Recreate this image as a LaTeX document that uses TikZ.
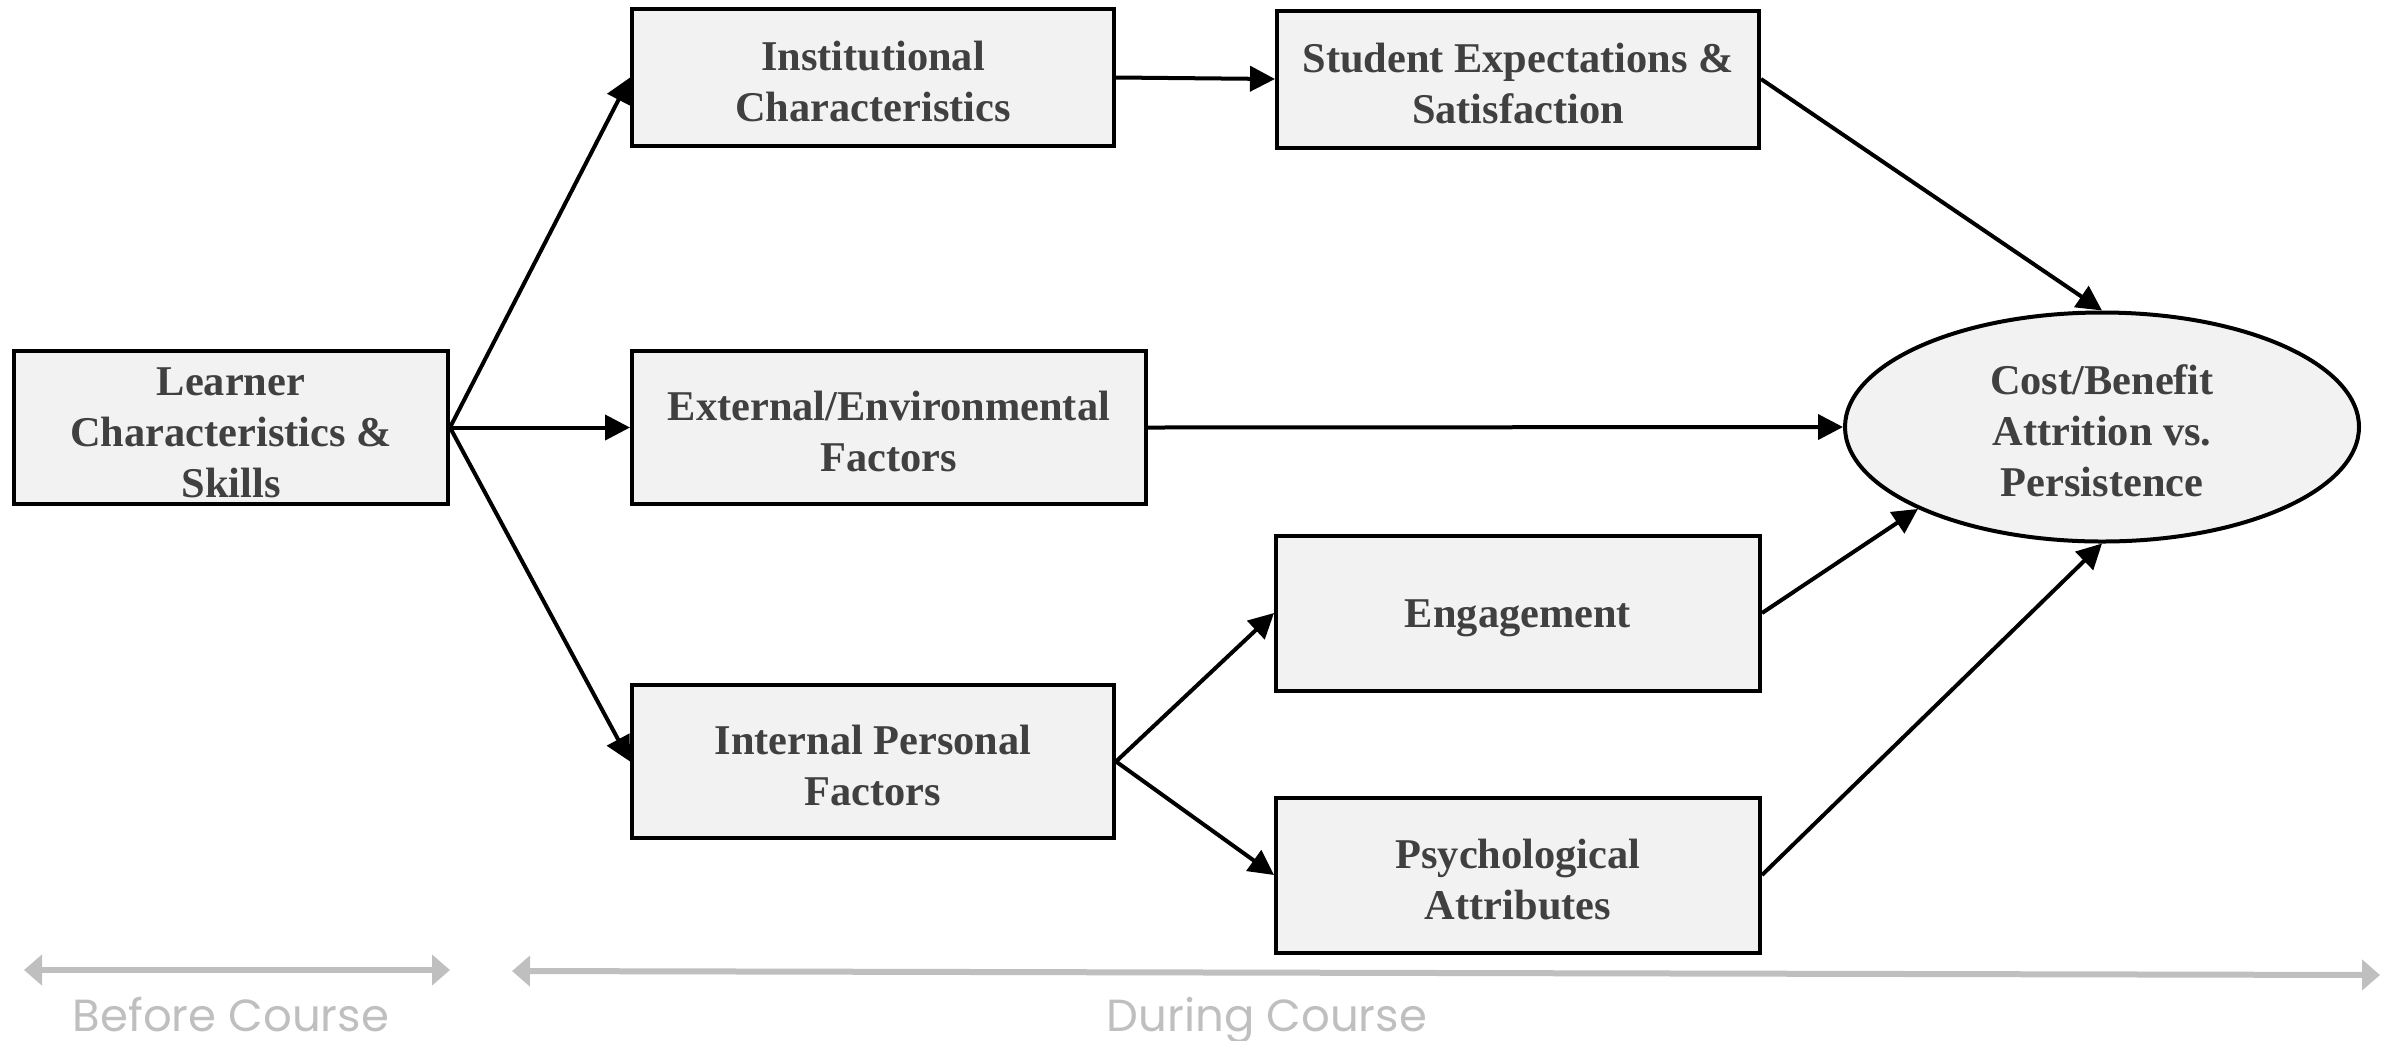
\documentclass[tikz,border=0pt]{standalone}
\usepackage{fontspec}
\setmainfont{Liberation Serif}
\newfontfamily\lanefamily{Poppins}
\usetikzlibrary{arrows.meta,shapes.geometric}

\definecolor{boxfill}{HTML}{F2F2F2}
\definecolor{boxtext}{HTML}{404040}
\definecolor{lanegray}{HTML}{BFBFBF}

\newcommand\boxfont{\bfseries\fontsize{21.2}{25.5}\selectfont}
\newcommand\lanefont{\lanefamily\fontsize{22.5}{26}\selectfont}
% tall first-line strut: sets the text block a little below the box centre
\newcommand\topstrut{\rule{0pt}{19pt}}

\tikzset{
  factor/.style={draw=black, line width=2pt, fill=boxfill, text=boxtext,
    align=center, inner sep=0pt, font=\boxfont},
  outcome/.style={factor, ellipse},
  conn/.style={draw=black, line width=2pt, -{Triangle[length=12.5pt,width=12.5pt]}},
  lane/.style={draw=lanegray, line width=3pt},
  lanelabel/.style={text=lanegray, font=\lanefont, inner sep=0pt, anchor=base}
}

\begin{document}
\begin{tikzpicture}[x=0.5pt, y=-0.5pt]
  \useasboundingbox (0,0) rectangle (2392,1040);

  % factor boxes
  \node[factor, minimum width=217pt, minimum height=76.5pt] (learner) at (231,427.5)
    {\topstrut Learner\\Characteristics \&\\Skills};
  \node[factor, minimum width=241pt, minimum height=68.5pt] (inst) at (873,77.5)
    {\topstrut Institutional\\Characteristics};
  \node[factor, minimum width=241pt, minimum height=68.5pt] (student) at (1518,79)
    {\topstrut Student Expectations \&\\Satisfaction};
  \node[factor, minimum width=257pt, minimum height=76.5pt] (external) at (889,427.5)
    {\topstrut External/Environmental\\Factors};
  \node[factor, minimum width=241pt, minimum height=76.5pt] (internal) at (873,761.5)
    {\topstrut Internal Personal\\Factors};
  \node[factor, minimum width=242pt, minimum height=77.5pt] (engage) at (1518,613)
    {\topstrut Engagement};
  \node[factor, minimum width=242pt, minimum height=77.5pt] (psych) at (1518,875)
    {\topstrut Psychological\\Attributes};

  % outcome
  \node[outcome, minimum width=257pt, minimum height=114.5pt] (cb) at (2102,427)
    {\topstrut Cost/Benefit\\Attrition vs.\\Persistence};

  % connectors
  \draw[conn] (learner.east) -- (inst.west);
  \draw[conn] (learner.east) -- (external.west);
  \draw[conn] (learner.east) -- (internal.west);
  \draw[conn] (inst.east) -- (student.west);
  \draw[conn] (external.east) -- (cb.west);
  \draw[conn] (internal.east) -- (engage.west);
  \draw[conn] (internal.east) -- (psych.west);
  \draw[conn] (student.east) -- (cb.north);
  \draw[conn] (engage.east) -- (cb.204);
  \draw[conn] (psych.east) -- (cb.south);

  % timeline
  \coordinate (b1) at (24,970);
  \coordinate (b2) at (450,970);
  \coordinate (d1) at (512,971);
  \coordinate (d2) at (2380,975);
  \draw[lane, {Triangle[length=9pt,width=15pt]}-{Triangle[length=9pt,width=15pt]}] (b1) -- (b2);
  \draw[lane, {Triangle[length=9pt,width=15pt]}-{Triangle[length=9pt,width=15pt]}] (d1) -- (d2);
  \node[lanelabel] (before) at (231,1031) {Before Course};
  \node[lanelabel] (during) at (1267,1031) {During Course};
\end{tikzpicture}
\end{document}
